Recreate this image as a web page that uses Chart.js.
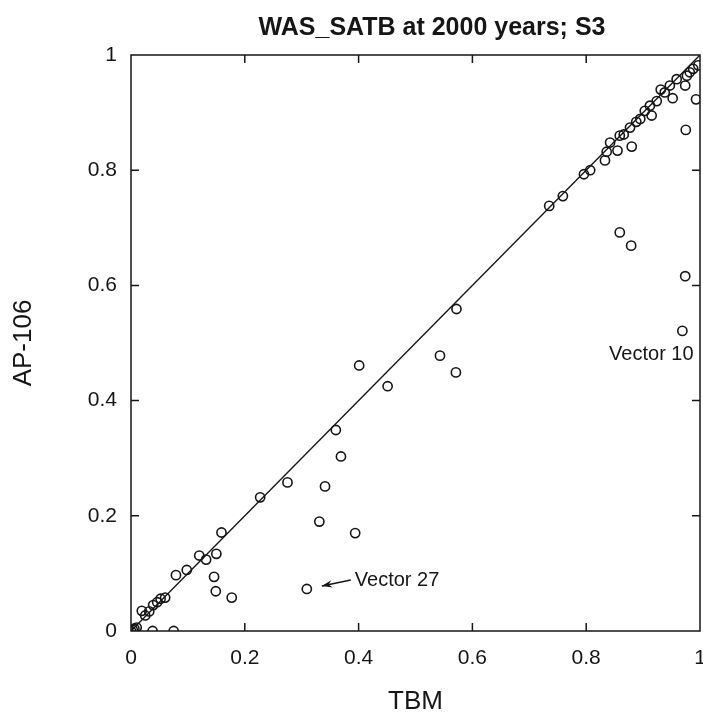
<!DOCTYPE html>
<html>
<head>
<meta charset="utf-8">
<script src="https://cdn.jsdelivr.net/npm/chart.js@4.4.1/dist/chart.umd.min.js"></script>
<style>
  html, body { margin: 0; padding: 0; background: #fff; overflow: hidden; }
</style>
</head>
<body>
<canvas id="myChart" width="720" height="721"></canvas>
<script>
// values (TBM on x, AP-106 on y)
var tbm = [0, 0.003, 0.006, 0.01, 0.038, 0.075,
  0.019, 0.025, 0.032, 0.039, 0.046, 0.052, 0.06,
  0.079, 0.098, 0.12, 0.132, 0.15, 0.146, 0.149, 0.177, 0.159,
  0.227, 0.275, 0.309,
  0.331, 0.341, 0.36, 0.369, 0.394, 0.401, 0.451,
  0.543, 0.571, 0.572,
  0.735, 0.759, 0.796, 0.807,
  0.833, 0.836, 0.842, 0.855, 0.859, 0.866, 0.877, 0.88, 0.888, 0.895, 0.903, 0.912, 0.915,
  0.924, 0.931, 0.938, 0.947, 0.952, 0.959, 0.974, 0.977, 0.982, 0.988, 0.993, 0.997, 0.975,
  0.859, 0.879, 0.974, 0.969];
var ap106 = [0, 0.002, 0.004, 0.006, 0, 0,
  0.035, 0.027, 0.034, 0.045, 0.05, 0.056, 0.058,
  0.097, 0.106, 0.131, 0.124, 0.134, 0.094, 0.069, 0.058, 0.171,
  0.232, 0.258, 0.073,
  0.19, 0.251, 0.349, 0.303, 0.17, 0.461, 0.425,
  0.478, 0.449, 0.559,
  0.738, 0.755, 0.793, 0.8,
  0.817, 0.832, 0.848, 0.834, 0.86, 0.862, 0.874, 0.841, 0.884, 0.889, 0.903, 0.912, 0.895,
  0.92, 0.94, 0.935, 0.947, 0.925, 0.958, 0.947, 0.964, 0.97, 0.976, 0.923, 0.982, 0.87,
  0.692, 0.669, 0.616, 0.521];
var lineX = [0, 1];
var lineY = [0, 1];
var tickValues = [0, 0.2, 0.4, 0.6, 0.8, 1];
var tickLabels = ['0', '0.2', '0.4', '0.6', '0.8', '1'];
var noteText = ['Vector 27', 'Vector 10'];
var noteX = [0.309, 0.969];
var noteY = [0.073, 0.521];

var points = tbm.map(function(v, i) { return {x: v, y: ap106[i]}; });
var diag = lineX.map(function(v, i) { return {x: v, y: lineY[i]}; });

var font = '"Liberation Sans", Arial, sans-serif';
var ink = '#161616';

function setTicks(s) {
  s.ticks = tickValues.map(function(v) { return {value: v}; });
}
function tickText(value) {
  var i = tickValues.indexOf(value);
  return i >= 0 ? tickLabels[i] : '';
}

var decorate = {
  id: 'decorate',
  afterDatasetsDraw: function(chart) {
    var c = chart.ctx, a = chart.chartArea, xs = chart.scales.x, ys = chart.scales.y;
    c.save();
    c.strokeStyle = ink;
    c.lineWidth = 1.5;
    c.strokeRect(a.left, a.top, a.right - a.left, a.bottom - a.top);
    // inward ticks on all four sides
    c.beginPath();
    tickValues.slice(1, -1).forEach(function(v) {
      var px = xs.getPixelForValue(v), py = ys.getPixelForValue(v);
      c.moveTo(px, a.bottom); c.lineTo(px, a.bottom - 8);
      c.moveTo(px, a.top); c.lineTo(px, a.top + 8);
      c.moveTo(a.left, py); c.lineTo(a.left + 8, py);
      c.moveTo(a.right, py); c.lineTo(a.right - 8, py);
    });
    c.stroke();

    // title
    c.fillStyle = ink;
    c.font = 'bold 25px ' + font;
    c.textAlign = 'center';
    c.textBaseline = 'middle';
    c.fillText('WAS_SATB at 2000 years; S3', 432, 28);

    // Vector 27 with arrow
    c.font = '20px ' + font;
    var p = {x: xs.getPixelForValue(noteX[0]), y: ys.getPixelForValue(noteY[0])};
    var tipX = p.x + 15, tipY = p.y - 3, tailX = p.x + 44, tailY = p.y - 9;
    c.lineWidth = 1.4;
    c.beginPath();
    c.moveTo(tailX, tailY); c.lineTo(tipX, tipY);
    c.stroke();
    var ang = Math.atan2(tipY - tailY, tipX - tailX);
    c.beginPath();
    c.moveTo(tipX, tipY);
    c.lineTo(tipX - 11 * Math.cos(ang - 0.35), tipY - 11 * Math.sin(ang - 0.35));
    c.lineTo(tipX - 7 * Math.cos(ang), tipY - 7 * Math.sin(ang));
    c.lineTo(tipX - 11 * Math.cos(ang + 0.35), tipY - 11 * Math.sin(ang + 0.35));
    c.closePath();
    c.fill();
    c.textAlign = 'left';
    c.fillText(noteText[0], p.x + 48, p.y - 8);

    // Vector 10
    var q = {x: xs.getPixelForValue(noteX[1]), y: ys.getPixelForValue(noteY[1])};
    c.textAlign = 'center';
    c.fillText(noteText[1], q.x - 31, q.y + 24);
    c.restore();
  }
};

var ctx = document.getElementById('myChart').getContext('2d');
var chart = new Chart(ctx, {
  type: 'scatter',
  data: {
    datasets: [{
      label: 'runs',
      data: points,
      pointRadius: 4.6,
      pointHoverRadius: 4.6,
      pointBorderWidth: 1.6,
      borderColor: ink,
      backgroundColor: 'rgba(0,0,0,0)'
    }, {
      type: 'line',
      label: '1:1',
      data: diag,
      borderColor: ink,
      borderWidth: 1.4,
      pointRadius: 0,
      fill: false
    }]
  },
  options: {
    responsive: false,
    animation: false,
    layout: { padding: { top: 55, right: 20, left: 0, bottom: 0 } },
    plugins: {
      legend: { display: false },
      tooltip: { enabled: false }
    },
    scales: {
      x: {
        min: 0, max: 1,
        afterBuildTicks: setTicks,
        afterFit: function(s) { s.height = 90; s.paddingLeft = 0; s.paddingRight = 0; },
        grid: { display: false },
        border: { display: false },
        ticks: { color: ink, padding: 7, maxRotation: 0, font: { family: font, size: 21 }, callback: tickText },
        title: { display: true, text: 'TBM', color: ink, padding: { top: 0, bottom: 4 }, font: { family: font, size: 26 } }
      },
      y: {
        min: 0, max: 1,
        afterBuildTicks: setTicks,
        afterFit: function(s) { s.width = 131; s.paddingTop = 0; s.paddingBottom = 0; },
        grid: { display: false },
        border: { display: false },
        ticks: { color: ink, padding: 6, font: { family: font, size: 21 }, callback: tickText },
        title: { display: true, text: 'AP-106', color: ink, padding: { top: 8, bottom: 0 }, font: { family: font, size: 26 } }
      }
    }
  },
  plugins: [decorate]
});
</script>
</body>
</html>
